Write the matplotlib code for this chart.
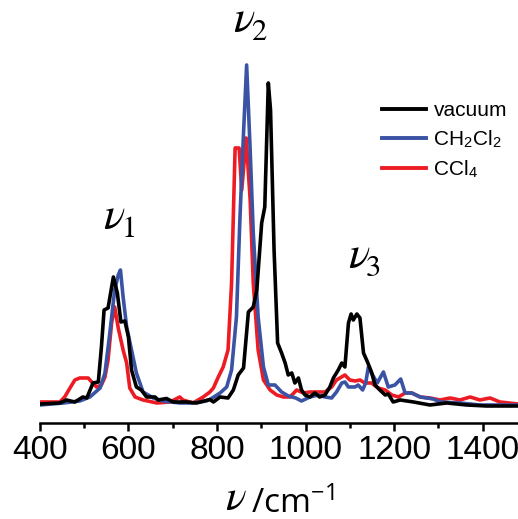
import matplotlib
matplotlib.use("Agg")
import matplotlib.pyplot as plt
from matplotlib.ticker import MultipleLocator

plt.rcParams['font.family'] = ['Liberation Sans', 'DejaVu Sans']
plt.rcParams['mathtext.fontset'] = 'custom'
plt.rcParams['mathtext.rm'] = 'Liberation Sans'
plt.rcParams['mathtext.it'] = 'STIXGeneral:italic'
plt.rcParams['mathtext.sf'] = 'Open Sans'

# --- spectra (wavenumber / arbitrary intensity) ---
x_vac = [400, 445, 460, 479, 497, 506, 520, 532, 539, 545,
         554, 566, 575, 583, 592, 600, 607, 618, 629, 641,
         660, 667, 686, 701, 731, 754, 784, 792, 807, 825,
         837, 848, 860, 871, 882, 890, 901, 908, 916, 921,
         929, 937, 946, 954, 961, 969, 976, 984, 991, 999,
         1010, 1021, 1032, 1044, 1055, 1063, 1074, 1082, 1089, 1097,
         1103, 1108, 1116, 1123, 1131, 1140, 1149, 1157, 1168, 1180,
         1187, 1198, 1214, 1244, 1281, 1319, 1364, 1409, 1480]
y_vac = [-1, 0, 3, 1, 6, 5, 20, 21, 56, 93,
         95, 126, 110, 81, 82, 66, 33, 16, 13, 6,
         6, 3, 4.5, 1, 1, 0, 3.5, 1, 6, 5,
         13, 28, 35, 91, 96, 113, 180, 196, 320, 293,
         153, 60, 50, 40, 28, 30, 20, 25, 13, 8,
         6, 10, 6, 8, 16, 25, 33, 40, 36, 80,
         89, 83, 89, 85, 50, 41, 31, 18, 13, 8,
         9, 1, 3, 1, -2, 0, -2, -3, -3]

x_dcm = [400, 453, 490, 513, 536, 547, 558, 569, 577, 582,
         588, 596, 607, 618, 633, 656, 678, 716, 746, 776,
         784, 807, 822, 833, 844, 852, 860, 867, 875, 882,
         893, 905, 916, 931, 946, 961, 978, 991, 1010, 1029,
         1044, 1059, 1070, 1082, 1089, 1097, 1112, 1119, 1129, 1136,
         1142, 1149, 1162, 1176, 1187, 1202, 1215, 1225, 1240, 1259,
         1289, 1304, 1349, 1394, 1480]
y_dcm = [-2, 0, 2, 6, 15, 30, 70, 113, 128, 133,
         106, 76, 53, 30, 11, 5, 2, 0, 0, 2,
         3.5, 10, 16, 33, 86, 186, 270, 338, 253, 170,
         86, 36, 18, 18, 11, 7, 5, 2, 6, 8,
         6, 5, 11, 20, 21, 16, 16, 18, 13, 20,
         36, 30, 20, 31, 16, 18, 24, 10, 10, 6,
         4, 1, 0, -2, -2]

x_ccl4 = [400, 445, 456, 468, 479, 490, 509, 517, 528, 539,
          547, 554, 562, 569, 577, 588, 596, 603, 615, 633,
          664, 694, 716, 723, 746, 769, 784, 792, 803, 814,
          825, 833, 841, 850, 856, 866, 875, 882, 893, 905,
          920, 935, 950, 965, 980, 995, 1010, 1025, 1044, 1059,
          1070, 1089, 1100, 1112, 1123, 1134, 1149, 1164, 1180, 1195,
          1210, 1225, 1240, 1259, 1281, 1304, 1327, 1349, 1372, 1394,
          1417, 1439, 1480]
y_ccl4 = [1, 1, 6, 15, 23, 25, 25, 21, 16, 18,
          26, 43, 80, 96, 75, 53, 40, 15, 6, 3,
          0, 1, 6, 3, 0, 6, 11, 15, 26, 36,
          53, 120, 255, 255, 213, 265, 203, 120, 53, 23,
          13, 8, 6, 6, 13, 10, 11, 11, 11, 16,
          23, 28, 23, 22, 23, 20, 20, 15, 13, 8,
          6, 10, 10, 6, 5, 3, 5, 3, 6, 3,
          5, 1, -1]

labels = ['vacuum', r'CH$_2$Cl$_2$', r'CCl$_4$']
colors = ['#000000', '#3a53a4', '#ed1c24']

# peak labels: (subscript, x, y)
peaks = [('1', 569, 185), ('2', 861, 382), ('3', 1121, 146)]

# --- figure ---
fig = plt.figure(figsize=(5.18, 5.19), dpi=100)
ax = fig.add_axes([0.077, 0.185, 0.923, 0.815])

ax.plot(x_vac, y_vac, color=colors[0], lw=2.6, label=labels[0], zorder=3)
ax.plot(x_dcm, y_dcm, color=colors[1], lw=2.6, label=labels[1], zorder=2)
ax.plot(x_ccl4, y_ccl4, color=colors[2], lw=2.6, label=labels[2], zorder=1)

ax.set_xlim(400, 1480)
ax.set_ylim(-20, 403)

for s in ['left', 'right', 'top']:
    ax.spines[s].set_visible(False)
ax.spines['bottom'].set_linewidth(1.8)
ax.set_yticks([])
ax.xaxis.set_major_locator(MultipleLocator(200))
ax.xaxis.set_minor_locator(MultipleLocator(100))
ax.tick_params(axis='x', which='major', direction='out', length=6, width=1.8,
               labelsize=24, pad=3)
ax.tick_params(axis='x', which='minor', direction='out', length=3.5, width=1.8)

# axis label: big italic nu + sans "/cm-1"
ax.set_xlabel(r'$\mathsf{/cm}^{\mathsf{-1}}$', fontsize=24)
ax.xaxis.set_label_coords(0.529, -0.15)
fig.text(236 / 518, 1 - 499 / 519, r'$\nu$', fontsize=31, ha='center', va='center')

for sub, px, py in peaks:
    ax.text(px, py, r'$\nu$', fontsize=32, ha='center', va='center')
    ax.text(px + 33, py - 12, sub, fontsize=22, family='STIXGeneral',
            ha='center', va='center')

leg = ax.legend(loc='upper left', bbox_to_anchor=(0.699, 0.78), frameon=False,
                fontsize=15, handlelength=2.1, handletextpad=0.35,
                labelspacing=0.4, borderaxespad=0)
for h in leg.get_lines():
    h.set_linewidth(2.8)

fig.savefig('out.png', dpi=100)
